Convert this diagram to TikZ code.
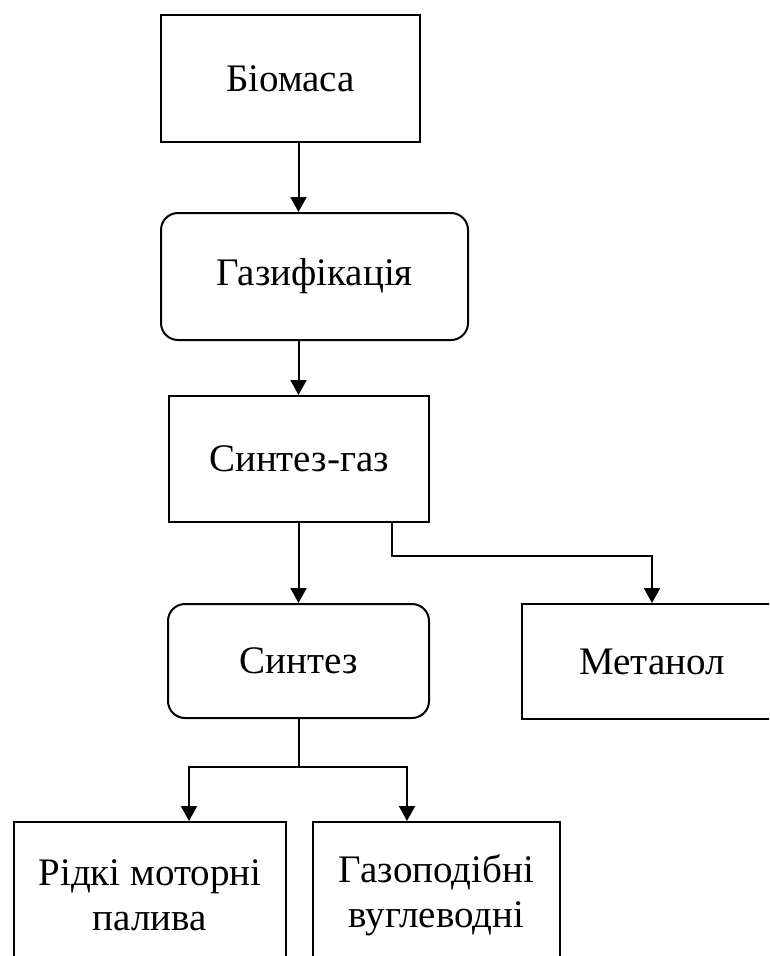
\documentclass[tikz,border=0pt]{standalone}
\usepackage{fontspec}
\setmainfont{Liberation Serif}
\usetikzlibrary{arrows.meta,calc}

\begin{document}
\begin{tikzpicture}[x=1pt, y=-1pt, >={Triangle[length=15pt, width=16pt]},
  every node/.style={font=\fontsize{39}{45}\selectfont},
  box/.style={draw, line width=2pt, inner sep=0pt, align=center},
  rbox/.style={box, rounded corners=17pt},
  link/.style={line width=2pt}]

  \clip (0,0) rectangle (769,956);

  % ===== main chain =====
  \node[box, minimum width=259pt, minimum height=127pt] (bio) at (290.5,78.5) {Біомаса};
  \node[rbox, minimum width=307pt, minimum height=127pt] (gas) at (314.5,276.5) {Газифікація};
  \node[box, minimum width=260pt, minimum height=126pt] (sg) at (299,459) {Синтез-газ};
  \node[rbox, minimum width=261pt, minimum height=114pt] (syn) at (298.5,661) {Синтез};

  % ===== side branch =====
  \node[box, minimum width=260pt, minimum height=115pt] (met) at (652,661.5) {Метанол};

  % ===== products =====
  \node[box, minimum width=272pt, minimum height=146pt] (liq) at (150,895) {Рідкі моторні\\палива};
  \node[box, minimum width=247pt, minimum height=146pt] (hc) at (436.5,895) {Газоподібні\\вуглеводні};

  % Junction points
  \coordinate (split) at (392,556);
  \coordinate (fork) at (298.5,767);
  \coordinate (forkL) at (189,767);
  \coordinate (forkR) at (407,767);

  % Arrows along the chain
  \draw[link, ->] (bio.south -| syn) -- (gas.north -| syn);
  \draw[link, ->] (gas.south -| syn) -- (sg.north -| syn);
  \draw[link, ->] (sg.south -| syn) -- (syn.north);
  \draw[link, ->] (sg.south -| split) -- (split) -| (met.north);

  % Fork to products
  \draw[link] (syn.south) -- (fork);
  \draw[link, ->] (fork) -- (forkL) -- (forkL |- liq.north);
  \draw[link, ->] (fork) -- (forkR) -- (forkR |- hc.north);

\end{tikzpicture}
\end{document}
